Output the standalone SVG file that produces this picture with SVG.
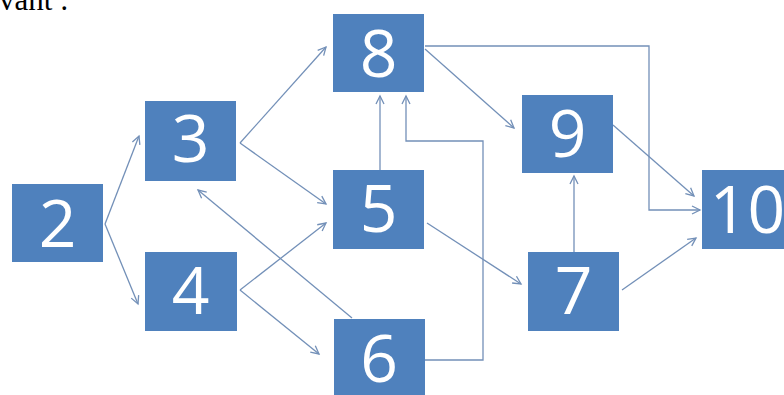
<svg xmlns="http://www.w3.org/2000/svg" width="784" height="395" viewBox="0 0 784 395">
<style>
.box{fill:#4F81BD}
.lbl{fill:#FFFFFF;font-family:"Open Sans","Liberation Sans",sans-serif;font-size:66px;text-anchor:middle}
.c{fill:none;stroke:#7390B8;stroke-width:1.3}
.ar{marker-end:url(#arr)}
.cap{font-family:"Liberation Serif",serif;font-size:31px;fill:#000}
</style>
<defs>
<marker id="arr" markerUnits="userSpaceOnUse" markerWidth="12" markerHeight="12" refX="9" refY="5" orient="auto">
<path d="M1,1 L9,5 L1,9" fill="none" stroke="#7390B8" stroke-width="1.3"/>
</marker>
</defs>
<rect width="784" height="395" fill="#FFFFFF"/>
<text class="cap" x="-1" y="10">vant :</text>
<g id="connectors">
<path class="c ar" d="M105,224 L139,136"/>
<path class="c ar" d="M105,224 L138,304"/>
<path class="c ar" d="M240,143 L326,47"/>
<path class="c ar" d="M240,143 L326,204"/>
<path class="c ar" d="M240,290 L326,223"/>
<path class="c ar" d="M240,290 L319,354"/>
<path class="c ar" d="M352,318 L198,190"/>
<path class="c ar" d="M380,170 L380,96"/>
<path class="c ar" d="M425,360 L483,360 L483,141 L406,141 L406,96"/>
<path class="c ar" d="M425,49 L514,128"/>
<path class="c ar" d="M425,46 L649,46 L649,210 L700,210"/>
<path class="c ar" d="M613,125 L694,196"/>
<path class="c ar" d="M574,252 L574,176"/>
<path class="c ar" d="M427,223 L521,284"/>
<path class="c ar" d="M622,290 L696,238"/>
</g>
<g id="n2"><rect class="box" x="12" y="184" width="91" height="78"/><text class="lbl" x="57.5" y="247">2</text></g>
<g id="n3"><rect class="box" x="145" y="101" width="91" height="80"/><text class="lbl" x="190.5" y="162">3</text></g>
<g id="n4"><rect class="box" x="145" y="252" width="92" height="79"/><text class="lbl" x="190.5" y="314">4</text></g>
<g id="n8"><rect class="box" x="333" y="14" width="91" height="78"/><text class="lbl" x="378.5" y="77">8</text></g>
<g id="n5"><rect class="box" x="333" y="170" width="91" height="79"/><text class="lbl" x="378.5" y="232">5</text></g>
<g id="n6"><rect class="box" x="334" y="319" width="91" height="76"/><text class="lbl" x="379" y="382">6</text></g>
<g id="n9"><rect class="box" x="522" y="95" width="91" height="78"/><text class="lbl" x="567.5" y="157">9</text></g>
<g id="n7"><rect class="box" x="528" y="252" width="91" height="79"/><text class="lbl" x="573.5" y="314">7</text></g>
<g id="n10"><rect class="box" x="702" y="170" width="82" height="79"/><text class="lbl" x="747.5" y="233">10</text></g>
</svg>
